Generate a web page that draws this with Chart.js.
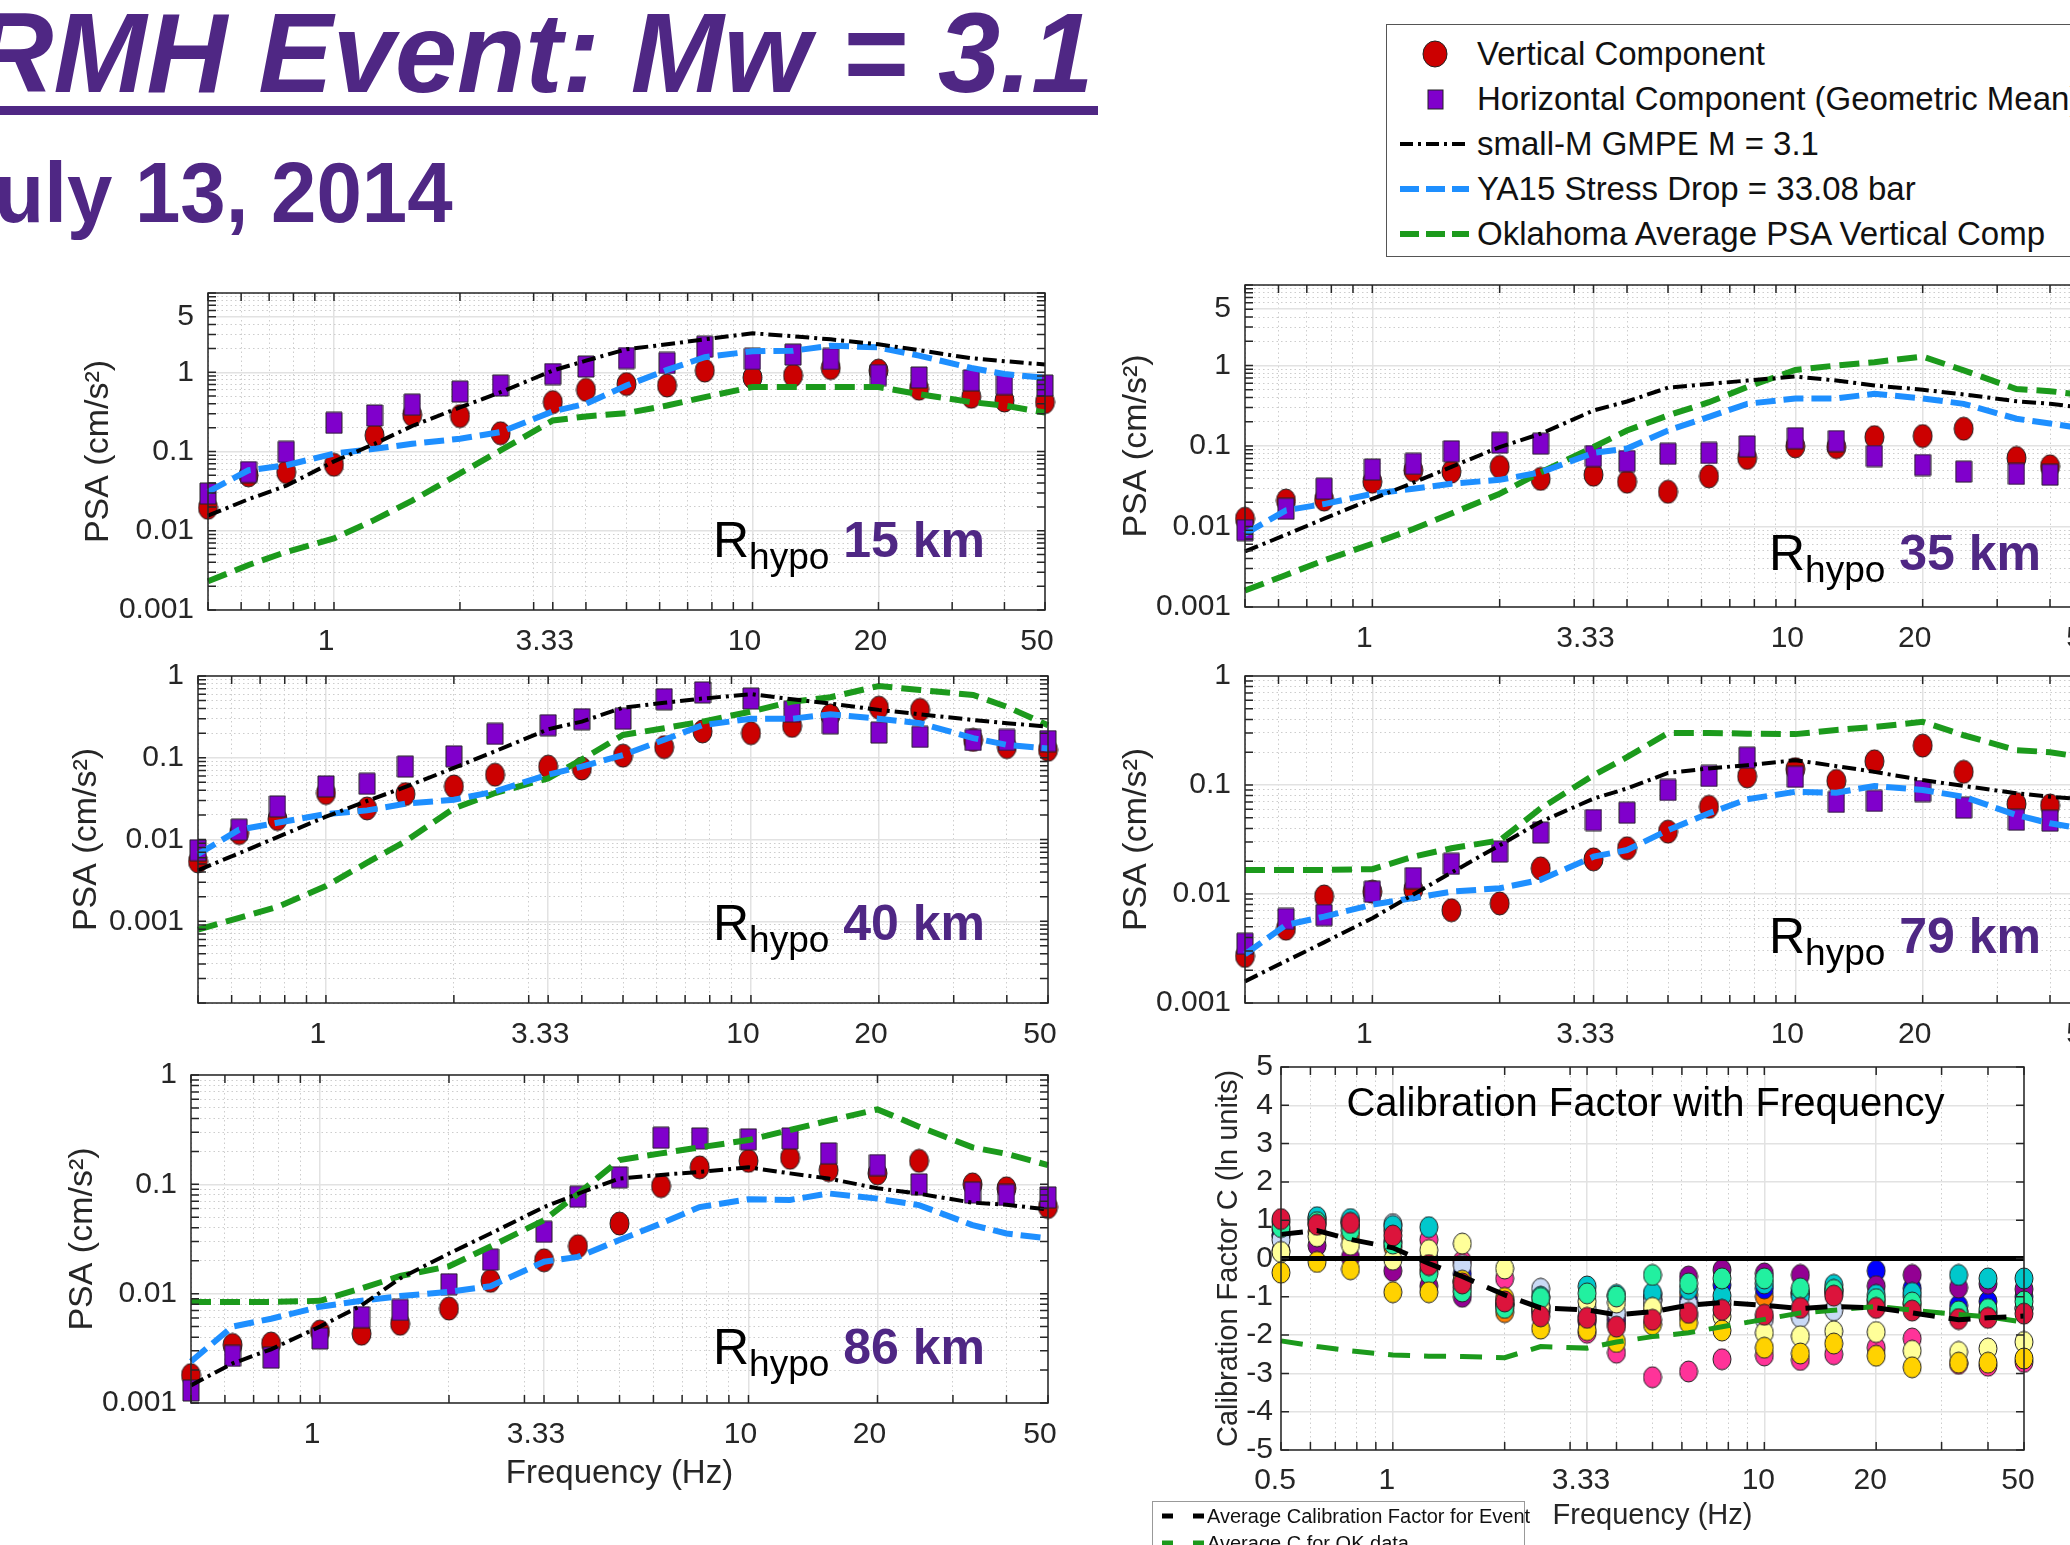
<!DOCTYPE html>
<html>
<head>
<meta charset="utf-8">
<script src="https://cdn.jsdelivr.net/npm/chart.js@4.4.1/dist/chart.umd.min.js"></script>
<style>
  html, body { margin: 0; padding: 0; background: #fff; }
  body { position: relative; width: 2070px; height: 1545px; overflow: hidden; font-family: 'Liberation Sans', Arial, sans-serif; }
  canvas { position: absolute; }
  .abs { position: absolute; white-space: nowrap; }
  .rh { position: absolute; white-space: nowrap; font-size: 50px; line-height: 1; color: #000; }
  .rh sub { font-size: 37px; vertical-align: -12px; }
  .rh b { color: #4F2784; }
</style>
</head>
<body>
<div class="abs" style="right:977px;top:-4px;font:italic bold 114px 'Liberation Sans',Arial,sans-serif;line-height:1;color:#4F2784;transform:scaleX(0.98);transform-origin:right top;">RMH Event: Mw = 3.1</div>
<div class="abs" style="left:0;top:106px;width:1098px;height:9px;background:#4F2784;"></div>
<div class="abs" style="right:1617px;top:150px;font:bold 85px 'Liberation Sans',Arial,sans-serif;line-height:1;color:#4F2784;transform:scaleX(0.96);transform-origin:right top;">July 13, 2014</div>
<div id="legend" class="abs" style="left:1386px;top:24px;width:720px;height:233px;border:1.5px solid #555;box-sizing:border-box;background:#fff;"></div>
<div id="legend2" class="abs" style="left:1152px;top:1501px;width:373px;height:70px;border:1px solid #999;box-sizing:border-box;background:#fff;"></div>
<script>
// frequencies (Hz) shared by every panel
const freqs = [0.5, 0.625, 0.769, 1, 1.25, 1.538, 2, 2.5, 3.333, 4, 5, 6.25, 7.692, 10, 12.5, 15.38, 20, 25, 33.33, 40, 50];

const xTickVals = [1, 3.333, 10, 20, 50];
const xTickText = ['1', '3.33', '10', '20', '50'];
const calXTickVals = [0.5, 1, 3.333, 10, 20, 50];
const calXTickText = ['0.5', '1', '3.33', '10', '20', '50'];
const yTickValsTall = [0.001, 0.01, 0.1, 1, 5];
const yTickValsShort = [0.001, 0.01, 0.1, 1];
const calYTicks = [-5, -4, -3, -2, -1, 0, 1, 2, 3, 4, 5];

const hypoDist = [15, 35, 40, 79, 86];

// R = 15 km
const vert15   = [0.0195, 0.050, 0.055, 0.068, 0.16, 0.29, 0.28, 0.17, 0.42, 0.60, 0.71, 0.68, 1.05, 0.86, 0.91, 1.13, 1.05, 0.62, 0.49, 0.44, 0.42];
const horiz15  = [0.0295, 0.055, 0.099, 0.23, 0.285, 0.39, 0.57, 0.68, 0.95, 1.18, 1.51, 1.31, 2.10, 1.47, 1.67, 1.47, 0.92, 0.86, 0.79, 0.71, 0.68];
const gmpe15   = [0.0155, 0.025, 0.037, 0.075, 0.125, 0.21, 0.36, 0.56, 1.05, 1.4, 1.95, 2.25, 2.6, 3.1, 2.85, 2.6, 2.25, 1.9, 1.5, 1.38, 1.25];
const stress15 = [0.031, 0.058, 0.067, 0.094, 0.108, 0.125, 0.145, 0.176, 0.32, 0.40, 0.68, 1.07, 1.55, 1.84, 1.87, 2.16, 2.06, 1.62, 1.13, 0.95, 0.85];
const ok15     = [0.0023, 0.0037, 0.0054, 0.008, 0.0137, 0.024, 0.053, 0.103, 0.246, 0.277, 0.305, 0.38, 0.485, 0.65, 0.65, 0.65, 0.65, 0.53, 0.42, 0.38, 0.31];

// R = 35 km
const vert35   = [0.0125, 0.021, 0.0216, 0.036, 0.050, 0.048, 0.055, 0.039, 0.044, 0.036, 0.027, 0.042, 0.071, 0.099, 0.097, 0.129, 0.133, 0.164, 0.071, 0.056, 0.05];
const horiz35  = [0.009, 0.0166, 0.0295, 0.051, 0.060, 0.086, 0.11, 0.107, 0.075, 0.065, 0.080, 0.082, 0.099, 0.125, 0.115, 0.075, 0.058, 0.048, 0.045, 0.044, 0.045];
const gmpe35   = [0.0049, 0.0079, 0.0125, 0.022, 0.035, 0.055, 0.097, 0.142, 0.276, 0.357, 0.53, 0.59, 0.65, 0.73, 0.65, 0.565, 0.50, 0.437, 0.36, 0.335, 0.29];
const stress35 = [0.0081, 0.0159, 0.019, 0.0255, 0.0295, 0.034, 0.038, 0.047, 0.082, 0.093, 0.156, 0.23, 0.334, 0.39, 0.39, 0.445, 0.39, 0.334, 0.218, 0.19, 0.16];
const ok35     = [0.0016, 0.0025, 0.0038, 0.0061, 0.0093, 0.0145, 0.0255, 0.047, 0.097, 0.156, 0.24, 0.35, 0.54, 0.88, 1.0, 1.1, 1.29, 0.87, 0.51, 0.48, 0.42];

// R = 40 km
const vert40   = [0.0054, 0.012, 0.0178, 0.037, 0.024, 0.036, 0.0446, 0.062, 0.078, 0.074, 0.106, 0.135, 0.21, 0.20, 0.245, 0.33, 0.41, 0.385, 0.165, 0.135, 0.125];
const horiz40  = [0.0074, 0.0132, 0.0254, 0.0446, 0.048, 0.078, 0.104, 0.196, 0.25, 0.296, 0.30, 0.52, 0.63, 0.53, 0.367, 0.264, 0.203, 0.18, 0.165, 0.165, 0.16];
const gmpe40   = [0.0042, 0.0068, 0.0107, 0.019, 0.0296, 0.044, 0.075, 0.12, 0.223, 0.277, 0.41, 0.47, 0.53, 0.60, 0.52, 0.46, 0.385, 0.34, 0.29, 0.265, 0.24];
const stress40 = [0.0066, 0.0132, 0.016, 0.0205, 0.0227, 0.0274, 0.0306, 0.0387, 0.062, 0.078, 0.108, 0.166, 0.25, 0.30, 0.30, 0.34, 0.30, 0.264, 0.174, 0.144, 0.13];
const ok40     = [0.00079, 0.0011, 0.0015, 0.0027, 0.0052, 0.0095, 0.024, 0.037, 0.056, 0.095, 0.19, 0.23, 0.277, 0.367, 0.486, 0.55, 0.755, 0.675, 0.586, 0.42, 0.25];

// R = 79 km
const vert79   = [0.0027, 0.0048, 0.0095, 0.0105, 0.011, 0.0071, 0.0082, 0.0172, 0.0208, 0.0263, 0.0373, 0.063, 0.12, 0.14, 0.109, 0.165, 0.23, 0.132, 0.067, 0.065, 0.06];
const horiz79  = [0.0035, 0.0059, 0.0064, 0.0105, 0.014, 0.0189, 0.0245, 0.0366, 0.0477, 0.0557, 0.09, 0.121, 0.178, 0.119, 0.070, 0.0715, 0.088, 0.062, 0.048, 0.047, 0.045];
const gmpe79   = [0.00158, 0.00243, 0.0036, 0.006, 0.0099, 0.0157, 0.028, 0.046, 0.075, 0.093, 0.129, 0.142, 0.152, 0.169, 0.149, 0.132, 0.111, 0.098, 0.084, 0.078, 0.073];
const stress79 = [0.0028, 0.0052, 0.0062, 0.008, 0.0092, 0.0105, 0.0113, 0.0135, 0.022, 0.0253, 0.0385, 0.055, 0.074, 0.0867, 0.085, 0.098, 0.09, 0.078, 0.053, 0.0445, 0.0385];
const ok79     = [0.0166, 0.0166, 0.0166, 0.0169, 0.022, 0.0263, 0.031, 0.061, 0.123, 0.18, 0.30, 0.30, 0.296, 0.293, 0.32, 0.34, 0.38, 0.286, 0.209, 0.2, 0.175];

// R = 86 km
const vert86   = [0.0018, 0.0034, 0.0035, 0.0045, 0.0043, 0.0053, 0.0073, 0.0131, 0.0202, 0.0272, 0.0438, 0.0964, 0.143, 0.164, 0.175, 0.135, 0.126, 0.164, 0.10, 0.092, 0.062];
const horiz86  = [0.0013, 0.0027, 0.0026, 0.0039, 0.0061, 0.0071, 0.0122, 0.0205, 0.0368, 0.077, 0.116, 0.267, 0.263, 0.258, 0.263, 0.192, 0.15, 0.10, 0.084, 0.08, 0.076];
const gmpe86   = [0.00145, 0.0023, 0.0031, 0.005, 0.0078, 0.0138, 0.0233, 0.0355, 0.062, 0.082, 0.113, 0.122, 0.13, 0.143, 0.126, 0.113, 0.092, 0.082, 0.068, 0.065, 0.059];
const stress86 = [0.0024, 0.005, 0.0059, 0.0076, 0.0086, 0.0095, 0.0104, 0.0117, 0.0196, 0.0217, 0.031, 0.0438, 0.062, 0.073, 0.072, 0.0825, 0.074, 0.0646, 0.0424, 0.0355, 0.032];
const ok86     = [0.0084, 0.0084, 0.0084, 0.0086, 0.0112, 0.0145, 0.0178, 0.027, 0.047, 0.082, 0.167, 0.192, 0.218, 0.254, 0.314, 0.382, 0.485, 0.337, 0.218, 0.19, 0.15];

// calibration factor C (ln units), one array per station colour
const calRed      = [1.03, 0.88, 0.93, 0.6, -0.17, -0.65, -1.12, -1.51, -1.55, -1.78, -1.6, -1.42, -1.34, -1.47, -1.29, -0.97, -1.29, -1.36, -1.58, -1.55, -1.44];
const calGold     = [-0.37, -0.09, -0.28, -0.88, -0.88, -0.58, -1.03, -1.83, -1.87, -2.18, -1.72, -1.68, -1.88, -2.33, -2.48, -2.22, -2.54, -2.84, -2.72, -2.72, -2.61];
const calGreen    = [0.82, 0.95, 0.73, 0.39, -0.39, -0.86, -1.29, -1.03, -0.91, -0.99, -0.43, -0.65, -0.52, -0.52, -0.78, -0.82, -1.06, -1.15, -1.38, -1.32, -1.12];
const calYellow   = [0.17, 0.58, 0.36, -0.03, 0.22, 0.39, -0.26, -1.25, -1.12, -1.15, -1.29, -1.5, -1.51, -1.94, -2.03, -1.90, -1.92, -2.41, -2.44, -2.35, -2.18];
const calTeal     = [0.95, 1.08, 1.03, 0.85, 0.82, -0.75, -1.2, -1.0, -0.73, -0.95, -0.9, -0.8, -0.97, -0.65, -0.99, -0.69, -0.95, -0.9, -0.43, -0.52, -0.52];
const calLavender = [0.49, 1.0, 0.95, 0.9, 0.0, -0.17, -1.1, -0.79, -1.3, -1.41, -1.1, -1.2, -1.1, -1.58, -1.53, -1.35, -1.2, -0.99, -1.5, -1.45, -1.3];
const calPurple   = [0.2, 0.34, 0.03, -0.32, -0.72, -1.0, -1.2, -1.3, -1.65, -1.5, -1.06, -0.47, -0.3, -0.39, -0.43, -0.85, -0.72, -0.43, -0.76, -0.66, -0.8];
const calBlue     = [0.6, 1.05, 0.95, 0.45, -0.05, -0.4, -1.2, -1.4, -1.5, -1.6, -0.95, -1.12, -0.69, -0.78, -0.9, -0.8, -0.32, -0.78, -1.23, -1.12, -1.0];
const calOrange   = [0.6, 0.7, 0.6, 0.3, -0.3, -0.6, -1.4, -1.35, -1.6, -1.7, -1.3, -0.95, -1.2, -0.99, -0.9, -0.9, -1.1, -1.2, -1.4, -1.4, -1.3];
const calPink     = [0.75, 0.9, 0.85, 0.73, 0.49, -0.07, -0.52, -1.25, -1.94, -2.46, -3.10, -2.95, -2.63, -2.53, -2.65, -2.5, -2.33, -2.09, -2.75, -2.8, -2.7];
const calAvgEvent = [0.63, 0.73, 0.5, 0.28, -0.13, -0.47, -0.95, -1.29, -1.34, -1.47, -1.39, -1.22, -1.15, -1.22, -1.31, -1.25, -1.29, -1.42, -1.6, -1.55, -1.5];
const calAvgOK    = [-2.15, -2.3, -2.41, -2.52, -2.55, -2.56, -2.59, -2.3, -2.34, -2.18, -2.04, -1.94, -1.78, -1.59, -1.42, -1.35, -1.25, -1.35, -1.46, -1.52, -1.66];
const zeroLevel = 0;

const AXIS = '#262626';
const FONT = "'Liberation Sans', Arial, sans-serif";
Chart.defaults.font.family = FONT;
Chart.defaults.color = AXIS;

function decadeGrid(min, max) {
  const out = [];
  for (let e = Math.floor(Math.log10(min)); e <= Math.ceil(Math.log10(max)); e++) {
    for (let m = 1; m <= 9; m++) {
      const v = +(m * Math.pow(10, e)).toPrecision(6);
      if (v >= min * 0.999 && v <= max * 1.001) out.push(v);
    }
  }
  return out;
}
const near = (a, b) => Math.abs(a - b) <= Math.abs(b) * 1e-4 + 1e-12;
const isIn = (v, list) => list.some(t => near(v, t));
const pts = vals => freqs.map((f, i) => ({ x: f, y: vals[i] }));

const xGrid = decadeGrid(0.5, 50).concat([3.333]).sort((a, b) => a - b);

function marker(w, h, fill, shape) {
  const c = document.createElement('canvas');
  c.width = w + 2; c.height = h + 2;
  const g = c.getContext('2d');
  g.beginPath();
  if (shape === 'rect') g.rect(1, 1, w, h);
  else g.ellipse(c.width / 2, c.height / 2, w / 2, h / 2, 0, 0, Math.PI * 2);
  g.fillStyle = fill; g.fill();
  g.lineWidth = 1; g.strokeStyle = '#222'; g.stroke();
  return c;
}
const redDot = marker(19, 23, '#CC0000');
const purpleSq = marker(16, 21, '#8000CC', 'rect');

const framePlugin = {
  id: 'frame',
  afterDraw(chart, args, o) {
    const { ctx, chartArea: a, scales: { x, y } } = chart;
    ctx.save();
    ctx.strokeStyle = AXIS; ctx.lineWidth = 1.5;
    ctx.beginPath();
    o.xMarks.forEach(v => {
      const px = x.getPixelForValue(v);
      ctx.moveTo(px, a.bottom); ctx.lineTo(px, a.bottom - 8);
      ctx.moveTo(px, a.top); ctx.lineTo(px, a.top + 8);
    });
    o.yMarks.forEach(v => {
      const py = y.getPixelForValue(v);
      ctx.moveTo(a.left, py); ctx.lineTo(a.left + 8, py);
      ctx.moveTo(a.right, py); ctx.lineTo(a.right - 8, py);
    });
    ctx.stroke();
    ctx.strokeRect(a.left, a.top, a.right - a.left, a.bottom - a.top);
    ctx.restore();
  }
};

// generous canvas margins so edge tick labels never push the plot area inward
const PAD_T = 44, PAD_R = 50;

function addCanvas(left, top, w, h) {
  const c = document.createElement('canvas');
  c.width = w; c.height = h;
  c.style.left = left + 'px'; c.style.top = top + 'px';
  document.body.insertBefore(c, document.getElementById('legend'));
  return c;
}

function axisCfg(type, min, max, grid, labVals, labText, fit, pad, offset, extra) {
  return Object.assign({
    type, min, max,
    afterBuildTicks: s => { s.ticks = grid.map(v => ({ value: v })); },
    afterFit: fit,
    ticks: {
      autoSkip: false, maxRotation: 0, minRotation: 0, color: AXIS,
      font: { size: 30 }, padding: pad, labelOffset: offset,
      callback: v => { const i = labVals.findIndex(t => near(v, t)); return i < 0 ? '' : labText[i]; }
    },
    grid: {
      drawTicks: false,
      color: c => (c.tick && isIn(c.tick.value, labVals)) ? '#E2E2E2' : '#CDCDCD',
      lineWidth: c => (c.tick && isIn(c.tick.value, labVals)) ? 1.5 : 1
    },
    border: { display: false, dash: c => (c.tick && !isIn(c.tick.value, labVals)) ? [1.5, 3] : [] }
  }, extra || {});
}

function psaPanel(box, yW, yMin, yMax, yLabs, series, withXTitle) {
  const [L, T, R, B] = box;
  const H = withXTitle ? 95 : 64;
  const canvas = addCanvas(L - yW, T - PAD_T, yW + (R - L) + PAD_R, PAD_T + (B - T) + H);
  const yGrid = decadeGrid(yMin, yMax);
  const [vert, horiz, gmpe, stress, ok] = series;
  const line = (vals, color, width, dash) => ({ data: pts(vals), showLine: true, borderColor: color, borderWidth: width, borderDash: dash, pointRadius: 0, clip: false });
  new Chart(canvas, {
    type: 'scatter',
    data: {
      datasets: [
        line(gmpe, '#000000', 4, [14, 5, 3, 5]),
        line(stress, '#1E8FFF', 6, [20, 8]),
        line(ok, '#1C9A1C', 6, [20, 9]),
        { data: pts(horiz), pointStyle: purpleSq, pointRadius: 3, clip: false },
        { data: pts(vert), pointStyle: redDot, pointRadius: 3, clip: false }
      ]
    },
    options: {
      responsive: false, animation: false, devicePixelRatio: 1,
      layout: { padding: { top: PAD_T, right: PAD_R, left: 0, bottom: 0 } },
      plugins: { legend: { display: false }, tooltip: { enabled: false }, frame: { xMarks: xGrid, yMarks: yGrid } },
      scales: {
        x: axisCfg('logarithmic', 0.5, 50, xGrid, xTickVals, xTickText, s => { s.height = H; }, 14, -8, {
          title: { display: withXTitle, text: 'Frequency (Hz)', font: { size: 33 }, color: AXIS, padding: { top: 0, bottom: 4 } }
        }),
        y: axisCfg('logarithmic', yMin, yMax, yGrid, yLabs, yLabs.map(String), s => { s.width = yW; }, 14, 0, {
          title: { display: true, text: 'PSA (cm/s²)', font: { size: 34 }, color: AXIS, padding: 0 }
        })
      }
    },
    plugins: [framePlugin]
  });
}

psaPanel([208, 293, 1045, 610], 130, 0.001, 10, yTickValsTall, [vert15, horiz15, gmpe15, stress15, ok15], false);
psaPanel([1245, 285, 2091, 607], 129, 0.001, 10, yTickValsTall, [vert35, horiz35, gmpe35, stress35, ok35], false);
psaPanel([198, 676, 1048, 1003], 132, 0.0001, 1, yTickValsShort, [vert40, horiz40, gmpe40, stress40, ok40], false);
psaPanel([1245, 676, 2091, 1003], 129, 0.001, 1, yTickValsShort, [vert79, horiz79, gmpe79, stress79, ok79], false);
psaPanel([191, 1075, 1048, 1403], 129, 0.001, 1, yTickValsShort, [vert86, horiz86, gmpe86, stress86, ok86], true);

// calibration factor panel
(function () {
  const L = 1281, T = 1067, R = 2024, B = 1450, yW = 69, H = 87;
  const canvas = addCanvas(L - yW, T - PAD_T, yW + (R - L) + PAD_R, PAD_T + (B - T) + H);
  const stations = [
    [calRed, '#DC143C'], [calGold, '#FFD200'], [calGreen, '#22F0A0'], [calYellow, '#FFFF99'],
    [calTeal, '#00C8CC'], [calLavender, '#CADAF6'], [calPurple, '#930093'], [calBlue, '#0000FF'],
    [calOrange, '#FF8000'], [calPink, '#FF3399']
  ];
  const dots = stations.map(([vals, col]) => ({ data: pts(vals), pointStyle: marker(18, 21, col), pointRadius: 3, clip: false }));
  const titlePlugin = {
    id: 'calTitle',
    afterDraw(chart) {
      const { ctx, chartArea: a } = chart;
      ctx.save();
      ctx.font = '40px ' + FONT; ctx.fillStyle = '#000';
      ctx.textAlign = 'center'; ctx.textBaseline = 'middle';
      ctx.fillText('Calibration Factor with Frequency', (a.left + a.right) / 2 - 7, a.top + 38);
      ctx.restore();
    }
  };
  new Chart(canvas, {
    type: 'scatter',
    data: {
      datasets: [
        { data: [{ x: freqs[0], y: zeroLevel }, { x: freqs[freqs.length - 1], y: zeroLevel }], showLine: true, borderColor: '#000', borderWidth: 5, pointRadius: 0, clip: false },
        { data: pts(calAvgEvent), showLine: true, borderColor: '#000', borderWidth: 5, borderDash: [22, 14], pointRadius: 0, clip: false },
        { data: pts(calAvgOK), showLine: true, borderColor: '#1C9A1C', borderWidth: 5, borderDash: [22, 14], pointRadius: 0, clip: false }
      ].concat(dots)
    },
    options: {
      responsive: false, animation: false, devicePixelRatio: 1,
      layout: { padding: { top: PAD_T, right: PAD_R, left: 0, bottom: 0 } },
      plugins: { legend: { display: false }, tooltip: { enabled: false }, frame: { xMarks: xGrid, yMarks: calYTicks } },
      scales: {
        x: axisCfg('logarithmic', 0.5, 50, xGrid, calXTickVals, calXTickText, s => { s.height = H; }, 13, -6, {
          title: { display: true, text: 'Frequency (Hz)', font: { size: 29 }, color: AXIS, padding: { top: 0, bottom: 4 } }
        }),
        y: axisCfg('linear', -5, 5, calYTicks, calYTicks, calYTicks.map(String), s => { s.width = yW; }, 8, 0, {
          title: { display: true, text: 'Calibration Factor C (ln units)', font: { size: 29 }, color: AXIS, padding: 0 }
        })
      }
    },
    plugins: [framePlugin, titlePlugin]
  });
})();

// R_hypo labels
const rhPos = [[713, 557], [1769, 570], [713, 940], [1769, 953], [713, 1364]];
rhPos.forEach(([x, base], i) => {
  const d = document.createElement('div');
  d.className = 'rh';
  d.style.left = x + 'px';
  d.style.top = (base - 42) + 'px';
  d.innerHTML = 'R<sub>hypo</sub> <b>' + hypoDist[i] + ' km</b>';
  document.body.appendChild(d);
});

// main legend
const legendRows = [
  ['Vertical Component', '<ellipse cx="48" cy="20" rx="12" ry="13" fill="#CC0000" stroke="#222" stroke-width="1"/>'],
  ['Horizontal Component (Geometric Mean)', '<rect x="41" y="11" width="15" height="19" fill="#8000CC" stroke="#222" stroke-width="1"/>'],
  ['small-M GMPE M = 3.1', '<line x1="13" y1="20" x2="82" y2="20" stroke="#000" stroke-width="4" stroke-dasharray="13 5 3 5"/>'],
  ['YA15 Stress Drop = 33.08 bar', '<line x1="13" y1="20" x2="82" y2="20" stroke="#1E8FFF" stroke-width="6" stroke-dasharray="19 7"/>'],
  ['Oklahoma Average PSA Vertical Comp', '<line x1="13" y1="20" x2="82" y2="20" stroke="#1C9A1C" stroke-width="6" stroke-dasharray="19 7"/>']
];
const lg = document.getElementById('legend');
legendRows.forEach(([text, sym], i) => {
  const cy = 29 + i * 45;
  lg.insertAdjacentHTML('beforeend',
    '<svg style="position:absolute;left:0;top:' + (cy - 20) + 'px" width="90" height="40">' + sym + '</svg>' +
    '<div style="position:absolute;left:90px;top:' + (cy - 20) + 'px;height:40px;line-height:40px;font-size:33px;color:#111;white-space:nowrap">' + text + '</div>');
});

// calibration legend
const legend2Rows = [['Average Calibration Factor for Event', '#000'], ['Average C for OK data', '#1C9A1C']];
const lg2 = document.getElementById('legend2');
legend2Rows.forEach(([text, col], i) => {
  const cy = 14 + i * 27;
  lg2.insertAdjacentHTML('beforeend',
    '<svg style="position:absolute;left:0;top:' + (cy - 10) + 'px" width="55" height="20"><line x1="9" y1="10" x2="51" y2="10" stroke="' + col + '" stroke-width="5" stroke-dasharray="11 20"/></svg>' +
    '<div style="position:absolute;left:54px;top:' + (cy - 12) + 'px;height:24px;line-height:24px;font-size:20px;color:#111;white-space:nowrap">' + text + '</div>');
});
</script>
</body>
</html>
